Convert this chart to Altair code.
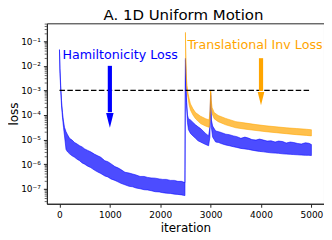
import altair as alt
import pandas as pd

# ---- data (log10 of loss) ----
blue_iter = [0, 10, 25, 40, 60, 80, 100, 130, 160, 200, 250, 300, 350, 400, 450, 500, 560, 620, 700,
             760, 820, 900, 960, 1020, 1100, 1160, 1220, 1300, 1380, 1450, 1520, 1600, 1680, 1750,
             1820, 1900, 1980, 2050, 2120, 2200, 2280, 2350, 2420, 2490,
             2500, 2510, 2520, 2540, 2560, 2600, 2650, 2700, 2750, 2800, 2850, 2900, 2960, 2985,
             3000, 3015, 3040, 3100, 3160, 3220, 3300, 3370, 3450, 3520, 3600, 3680, 3750, 3820,
             3900, 3970, 4050, 4120, 4200, 4280, 4350, 4430, 4500, 4580, 4650, 4730, 4800, 4880,
             4950, 5000]
blue_lo = [-1.40, -2.30, -3.00, -3.60, -4.10, -4.50, -4.85, -5.40, -5.50, -5.58, -5.66, -5.72, -5.80,
           -5.86, -5.95, -6.00, -6.08, -6.14, -6.25, -6.32, -6.38, -6.48, -6.52, -6.60, -6.66, -6.72,
           -6.78, -6.84, -6.90, -6.92, -6.97, -7.00, -7.04, -7.05, -7.08, -7.12, -7.13, -7.16, -7.18,
           -7.19, -7.22, -7.23, -7.25, -7.28,
           -1.75, -2.80, -3.50, -4.30, -4.60, -4.75, -4.85, -4.95, -5.05, -5.10, -5.15, -5.20, -5.25,
           -4.90, -3.20, -4.50, -4.90, -5.10, -5.12, -5.17, -5.22, -5.25, -5.29, -5.32, -5.36, -5.38,
           -5.40, -5.43, -5.46, -5.48, -5.50, -5.52, -5.54, -5.55, -5.56, -5.58, -5.59, -5.60, -5.61,
           -5.62, -5.63, -5.64, -5.64, -5.65]
blue_hi = [-1.34, -2.10, -2.80, -3.40, -3.90, -4.25, -4.50, -4.68, -4.80, -4.95, -5.02, -5.12, -5.18,
           -5.25, -5.30, -5.38, -5.44, -5.50, -5.60, -5.66, -5.72, -5.86, -5.90, -5.98, -6.10, -6.15,
           -6.22, -6.33, -6.36, -6.40, -6.44, -6.50, -6.50, -6.54, -6.56, -6.57, -6.60, -6.62, -6.62,
           -6.66, -6.66, -6.70, -6.70, -6.75,
           -1.69, -2.60, -3.30, -4.00, -4.15, -4.20, -4.30, -4.40, -4.48, -4.55, -4.65, -4.75, -4.85,
           -4.50, -3.10, -4.20, -4.45, -4.65, -4.68, -4.72, -4.78, -4.80, -4.85, -4.88, -4.95, -4.90,
           -4.94, -5.00, -5.02, -4.98, -5.02, -5.06, -5.05, -5.10, -5.06, -5.08, -5.14, -5.10, -5.12,
           -5.16, -5.18, -5.13, -5.15, -5.20]

orange_iter = [2500, 2505, 2515, 2530, 2550, 2575, 2600, 2650, 2700, 2800, 2900, 2970, 2990,
               3000, 3010, 3030, 3070, 3150, 3300, 3500, 3700, 3900, 4100, 4300, 4500, 4700,
               4900, 5000]
orange_lo = [-0.70, -1.60, -2.50, -3.00, -3.30, -3.60, -3.80, -4.00, -4.15, -4.35, -4.45, -4.50,
             -4.20, -3.05, -3.60, -3.95, -4.15, -4.27, -4.40, -4.52, -4.58, -4.63, -4.68, -4.72,
             -4.76, -4.80, -4.83, -4.85]
orange_hi = [-0.64, -1.40, -2.30, -2.80, -3.10, -3.35, -3.55, -3.75, -3.90, -4.05, -4.15, -4.20,
             -3.80, -2.98, -3.40, -3.70, -3.90, -4.02, -4.14, -4.27, -4.33, -4.39, -4.44, -4.48,
             -4.52, -4.55, -4.58, -4.60]

threshold = 1e-3
threshold_span = [0, 5000]

labels_text = ["Hamiltonicity Loss", "Translational Inv Loss"]
labels_color = ["#0000ff", "#ffa500"]
labels_iter = [60, 2540]
labels_loss = [0.027, 0.069]

arrow_iter = [1000, 4000]
arrow_top = [1e-2, 2.05e-2]
arrow_shaft_end = [1.3e-4, 9.5e-4]
arrow_tip = [3.0e-5, 2.5e-4]
arrow_head = [900, 708]
arrow_color = ["#0000ff", "#ffa500"]

y_tick_values = [1e-7, 1e-6, 1e-5, 1e-4, 1e-3, 1e-2, 1e-1]
y_tick_labels = ["10⁻⁷", "10⁻⁶", "10⁻⁵", "10⁻⁴", "10⁻³", "10⁻²", "10⁻¹"]
x_tick_values = [0, 1000, 2000, 3000, 4000, 5000]
minor_ticks = [m * 10.0 ** e for e in range(-8, 0) for m in range(2, 10)]
minor_ticks = [v for v in minor_ticks if 2.45e-8 <= v <= 0.537]

# ---- tables ----
blue = pd.DataFrame({"iteration": blue_iter,
                     "lo": [10 ** v for v in blue_lo], "hi": [10 ** v for v in blue_hi]})
orange = pd.DataFrame({"iteration": orange_iter,
                       "lo": [10 ** v for v in orange_lo], "hi": [10 ** v for v in orange_hi]})
thr = pd.DataFrame({"x0": [threshold_span[0]], "x1": [threshold_span[1]], "y": [threshold]})
txt = pd.DataFrame({"x": labels_iter, "y": labels_loss, "t": labels_text, "c": labels_color})
arr = pd.DataFrame({"x": arrow_iter, "top": arrow_top, "end": arrow_shaft_end,
                    "tip": arrow_tip, "size": arrow_head, "c": arrow_color})
minor = pd.DataFrame({"v": minor_ticks})

FONT = "DejaVu Sans"
xs = alt.Scale(domain=[-250, 5250], nice=False, zero=False)
ys = alt.Scale(type="log", domain=[2.45e-8, 0.537], nice=False)

label_expr = ""
for v, l in zip(y_tick_values, y_tick_labels):
    label_expr += f"abs(datum.value - {v:g}) < {v * 0.01:g} ? '{l}' : "
label_expr += "''"

blue_area = alt.Chart(blue).mark_area(
    color="#0000ff", fillOpacity=0.7, stroke="#0000ff", strokeOpacity=0.7, strokeWidth=0.8
).encode(
    x=alt.X("iteration:Q", scale=xs, title="iteration",
            axis=alt.Axis(values=x_tick_values, format="d")),
    y=alt.Y("lo:Q", scale=ys, title="loss",
            axis=alt.Axis(values=y_tick_values, labelExpr=label_expr)),
    y2="hi:Q",
)

orange_area = alt.Chart(orange).mark_area(
    color="#ffa500", fillOpacity=0.7, stroke="#ffa500", strokeOpacity=0.7, strokeWidth=0.8
).encode(
    x=alt.X("iteration:Q", scale=xs),
    y=alt.Y("lo:Q", scale=ys),
    y2="hi:Q",
)

thr_line = alt.Chart(thr).mark_rule(color="black", strokeWidth=1.2, strokeDash=[5.5, 2.4]).encode(
    x=alt.X("x0:Q", scale=xs), x2="x1:Q", y=alt.Y("y:Q", scale=ys)
)

shafts = alt.Chart(arr).mark_rule(strokeWidth=4.2).encode(
    x=alt.X("x:Q", scale=xs),
    y=alt.Y("top:Q", scale=ys), y2="end:Q",
    color=alt.Color("c:N", scale=None),
)

heads = alt.Chart(arr).mark_point(
    shape="M-0.25,-1L0.25,-1L0,0Z", filled=True, opacity=1, strokeWidth=0
).encode(
    x=alt.X("x:Q", scale=xs),
    y=alt.Y("tip:Q", scale=ys),
    size=alt.Size("size:Q", scale=None),
    color=alt.Color("c:N", scale=None),
)

texts = alt.Chart(txt).mark_text(align="left", baseline="middle", font=FONT, fontSize=12.7).encode(
    x=alt.X("x:Q", scale=xs),
    y=alt.Y("y:Q", scale=ys),
    text="t:N",
    color=alt.Color("c:N", scale=None),
)

minor_ticks_layer = alt.Chart(minor).mark_rule(color="#262626", strokeWidth=0.7).encode(
    x=alt.value(0), x2=alt.value(-2.2),
    y=alt.Y("v:Q", scale=ys),
)

chart = alt.layer(
    blue_area, orange_area, thr_line, shafts, heads, texts, minor_ticks_layer
).properties(
    width=278, height=181,
    padding={"left": 39, "top": 15, "right": 0, "bottom": 40},
    autosize=alt.AutoSizeParams(type="none"),
    title=alt.TitleParams("A. 1D Uniform Motion", font=FONT, fontSize=15, fontWeight="normal",
                          anchor="middle", color="black", offset=0, dx=-2),
).configure_view(
    stroke="#262626", strokeWidth=1
).configure_axis(
    grid=False, tickSize=3.5, labelPadding=3, labelFontSize=9, titleFontSize=12,
    titleFont=FONT, labelFont=FONT, titleFontWeight="normal", domainColor="#262626",
    tickColor="#262626", labelColor="black", titleColor="black", labelFlush=False,
).configure_axisY(titlePadding=0).configure_axisX(titlePadding=3)

chart.save("out.html", embed_options={"renderer": "svg", "actions": False})
